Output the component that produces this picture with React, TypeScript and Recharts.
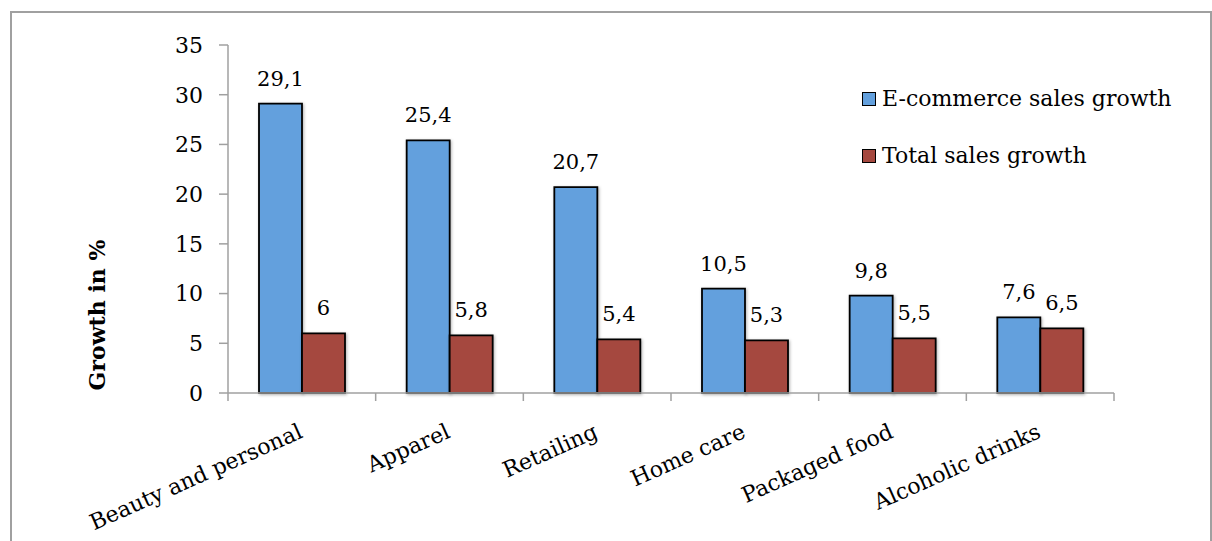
import { Bar, BarChart, LabelList, Legend, XAxis, YAxis } from 'recharts'

const categories = ['Beauty and personal', 'Apparel', 'Retailing', 'Home care', 'Packaged food', 'Alcoholic drinks']
const ecommerceGrowth = [29.1, 25.4, 20.7, 10.5, 9.8, 7.6]
const totalGrowth = [6, 5.8, 5.4, 5.3, 5.5, 6.5]
const yTicks = [0, 5, 10, 15, 20, 25, 30, 35]

const data = categories.map((name, i) => ({
  name,
  ecommerce: ecommerceGrowth[i],
  total: totalGrowth[i],
}))

const FONT = '"DejaVu Serif", serif'
const AXIS = '#A0A0A0'
const BLUE = '#63A0DD'
const RED = '#A5483F'

const W = 1212
const H = 541
const M = { top: 45, right: 98, bottom: 0, left: 0 }
const Y_AXIS_W = 228
const X_AXIS_H = 148
const BAND = (W - M.left - M.right - Y_AXIS_W) / categories.length

const fmtComma = (v: unknown): string => String(v).replace('.', ',')

// category label, rotated, ending at the band centre; edge tick marks sit on band borders
function CategoryTick(props: any) {
  const { x, y, payload, index } = props
  const left = x - BAND / 2
  return (
    <g>
      <line x1={left} y1={y} x2={left} y2={y + 8} stroke={AXIS} strokeWidth={1.5} />
      {index === categories.length - 1 && (
        <line x1={left + BAND} y1={y} x2={left + BAND} y2={y + 8} stroke={AXIS} strokeWidth={1.5} />
      )}
      <text
        x={x + 2}
        y={y + 44}
        transform={`rotate(-24, ${x + 2}, ${y + 44})`}
        textAnchor="end"
        fontFamily={FONT}
        fontSize={22}
        fill="#000"
      >
        {payload.value}
      </text>
    </g>
  )
}

function YTitle(props: any) {
  const { viewBox } = props
  const cx = viewBox.x + 97
  const cy = viewBox.y + viewBox.height / 2 + 96
  return (
    <text
      x={cx}
      y={cy}
      transform={`rotate(-90, ${cx}, ${cy})`}
      textAnchor="middle"
      dominantBaseline="central"
      fontFamily={FONT}
      fontWeight="bold"
      fontSize={22}
      fill="#000"
    >
      Growth in %
    </text>
  )
}

function LegendBox(props: any) {
  const items = props.payload ?? []
  return (
    <div style={{ fontFamily: FONT, fontSize: 22, color: '#000' }}>
      {items.map((item: any) => (
        <div key={item.value} style={{ display: 'flex', alignItems: 'center', height: 57 }}>
          <span
            style={{
              display: 'inline-block',
              width: 12,
              height: 12,
              background: item.color,
              border: '1.5px solid #000',
              marginRight: 6,
            }}
          />
          {item.value}
        </div>
      ))}
    </div>
  )
}

const barShadow = { filter: 'drop-shadow(1.5px 1.5px 1.5px rgba(0,0,0,0.3))' }

export default function App() {
  return (
    <div style={{ position: 'absolute', left: 0, top: 0, width: W, height: H, background: '#fff', overflow: 'hidden' }}>
      <div
        style={{
          position: 'absolute',
          left: 10,
          top: 11,
          width: 1198,
          height: 600,
          border: `2px solid ${AXIS}`,
        }}
      />
      <div style={{ position: 'absolute', left: 0, top: 0 }}>
        <BarChart width={W} height={H} data={data} margin={M} barCategoryGap={31} barGap={0}>
          <XAxis
            dataKey="name"
            height={X_AXIS_H}
            interval={0}
            tickSize={0}
            tickMargin={0}
            tickLine={false}
            axisLine={{ stroke: AXIS, strokeWidth: 1.5 }}
            tick={<CategoryTick />}
          />
          <YAxis
            width={Y_AXIS_W}
            domain={[0, 35]}
            ticks={yTicks}
            interval={0}
            tickSize={9}
            tickMargin={16}
            axisLine={{ stroke: AXIS, strokeWidth: 1.5 }}
            tickLine={{ stroke: AXIS, strokeWidth: 1.5 }}
            tick={{ fontFamily: FONT, fontSize: 22, fill: '#000' }}
            label={<YTitle />}
          />
          <Legend
            layout="vertical"
            align="center"
            verticalAlign="middle"
            wrapperStyle={{ left: 862, top: 70, width: 340 }}
            content={<LegendBox />}
          />
          <Bar
            dataKey="ecommerce"
            name="E-commerce sales growth"
            fill={BLUE}
            stroke="#000"
            strokeWidth={1.8}
            style={barShadow}
            isAnimationActive={false}
          >
            <LabelList
              dataKey="ecommerce"
              position="top"
              offset={18}
              formatter={fmtComma}
              style={{ fontFamily: FONT, fontSize: 21, fill: '#000' }}
            />
          </Bar>
          <Bar
            dataKey="total"
            name="Total sales growth"
            fill={RED}
            stroke="#000"
            strokeWidth={1.8}
            style={barShadow}
            isAnimationActive={false}
          >
            <LabelList
              dataKey="total"
              position="top"
              offset={18}
              formatter={fmtComma}
              style={{ fontFamily: FONT, fontSize: 21, fill: '#000' }}
            />
          </Bar>
        </BarChart>
      </div>
    </div>
  )
}
